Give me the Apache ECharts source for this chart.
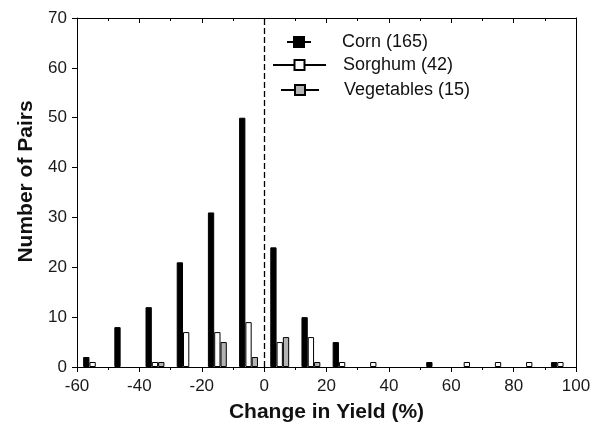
<!DOCTYPE html>
<html>
<head>
<meta charset="utf-8">
<script src="https://cdn.jsdelivr.net/npm/echarts@6/dist/echarts.min.js"></script>
<style>html,body{margin:0;padding:0;background:#fff}#c{width:604px;height:427px}</style>
</head>
<body>
<div id="c"></div>
<script>
// Bins (lower edge of 10% yield-change classes)
const bins = ['-60','-50','-40','-30','-20','-10','0','10','20','30','40','50','60','70','80','90'];
const corn =       [2, 8, 12, 21, 31, 50, 24, 10, 5, null, null, 1, null, null, null, 1];
const sorghum =    [1, null, 1, 7, 7, 9, 5, 6, 1, 1, null, null, 1, 1, 1, 1];
const vegetables = [null, null, 1, null, 5, 2, 6, 1, null, null, null, null, null, null, null, null];
const legendNames = ['Corn (165)', 'Sorghum (42)', 'Vegetables (15)'];
const xRange = [-60, 100];
const yRange = [0, 70];

const FONT = 'Liberation Sans, Arial, sans-serif';
const chart = echarts.init(document.getElementById('c'), null, {renderer: 'canvas'});

function legendOf(name, left, top, w, pad) {
  return {
    data: [name], left: left, top: top, orient: 'vertical', padding: 0,
    itemWidth: w, itemHeight: 12.5, selectedMode: false,
    textStyle: {fontFamily: FONT, fontSize: 18, color: '#111', lineHeight: 20, padding: [0, 0, 0, pad]}
  };
}

const option = {
  animation: false,
  backgroundColor: '#fff',
  textStyle: {fontFamily: FONT},
  grid: {left: 77, right: 28, top: 18, bottom: 60, outerBoundsMode: 'none'},
  legend: [
    legendOf(legendNames[0], 286, 32, 24, 26),
    legendOf(legendNames[1], 272, 55, 53, 12),
    legendOf(legendNames[2], 280, 80, 38, 20)
  ],
  xAxis: [
    {type: 'category', data: bins, boundaryGap: true, show: false, gridIndex: 0},
    {type: 'value', position: 'bottom', min: xRange[0], max: xRange[1], interval: 20,
     name: 'Change in Yield (%)', nameLocation: 'middle', nameGap: 35,
     nameTextStyle: {fontFamily: FONT, fontSize: 21, fontWeight: 'bold', color: '#111'},
     axisLine: {show: true, onZero: false, lineStyle: {color: '#000', width: 1}},
     axisTick: {show: true, inside: false, length: 5, lineStyle: {color: '#000'}},
     minorTick: {show: true, splitNumber: 2, length: 3, lineStyle: {color: '#000'}},
     axisLabel: {fontFamily: FONT, fontSize: 17, color: '#1a1a1a', margin: 11},
     splitLine: {show: false}, minorSplitLine: {show: false}},
    {type: 'value', position: 'top', min: xRange[0], max: xRange[1], interval: 20,
     axisLine: {show: true, onZero: false, lineStyle: {color: '#000', width: 1}},
     axisTick: {show: true, inside: true, length: 5, lineStyle: {color: '#000'}},
     minorTick: {show: true, splitNumber: 2, length: 3, lineStyle: {color: '#000'}},
     axisLabel: {show: false}, splitLine: {show: false}, minorSplitLine: {show: false}}
  ],
  yAxis: [
    {type: 'value', position: 'left', min: yRange[0], max: yRange[1], interval: 10,
     name: 'Number of Pairs', nameLocation: 'middle', nameGap: 40,
     nameTextStyle: {fontFamily: FONT, fontSize: 21, fontWeight: 'bold', color: '#111', padding: [0, 0, 0, 22]},
     axisLine: {show: true, onZero: false, lineStyle: {color: '#000', width: 1}},
     axisTick: {show: true, inside: false, length: 5, lineStyle: {color: '#000'}},
     axisLabel: {fontFamily: FONT, fontSize: 17, color: '#1a1a1a', margin: 10},
     splitLine: {show: false}},
    {type: 'value', position: 'right', min: yRange[0], max: yRange[1], interval: 10,
     axisLine: {show: true, onZero: false, lineStyle: {color: '#000', width: 1}},
     axisTick: {show: false}, axisLabel: {show: false}, splitLine: {show: false}}
  ],
  series: [
    // legend-only entries (line + square key)
    {name: legendNames[0], type: 'line', xAxisIndex: 0, yAxisIndex: 0, data: [], symbol: 'rect',
     lineStyle: {color: '#000', width: 2}, itemStyle: {color: '#000', borderColor: '#000', borderWidth: 1}},
    {name: legendNames[1], type: 'line', xAxisIndex: 0, yAxisIndex: 0, data: [], symbol: 'rect',
     lineStyle: {color: '#000', width: 2}, itemStyle: {color: '#fff', borderColor: '#000', borderWidth: 1}},
    {name: legendNames[2], type: 'line', xAxisIndex: 0, yAxisIndex: 0, data: [], symbol: 'rect',
     lineStyle: {color: '#000', width: 2}, itemStyle: {color: '#b3b3b3', borderColor: '#000', borderWidth: 1}},
    // bars
    {name: 'Corn', type: 'bar', xAxisIndex: 0, yAxisIndex: 0, data: corn, barWidth: 6.3, barGap: '0%',
     itemStyle: {color: '#000', borderColor: '#000', borderWidth: 1}},
    {name: 'Sorghum', type: 'bar', xAxisIndex: 0, yAxisIndex: 0, data: sorghum, barWidth: 6.3, barGap: '0%',
     itemStyle: {color: '#fff', borderColor: '#000', borderWidth: 1}},
    {name: 'Vegetables', type: 'bar', xAxisIndex: 0, yAxisIndex: 0, data: vegetables, barWidth: 6.3, barGap: '0%',
     itemStyle: {color: '#b3b3b3', borderColor: '#000', borderWidth: 1}},
    // dashed zero line
    {name: 'zero', type: 'line', xAxisIndex: 1, yAxisIndex: 0, data: [], silent: true,
     markLine: {silent: true, symbol: 'none', label: {show: false},
       lineStyle: {color: '#000', type: [6, 3], width: 1.3}, data: [{xAxis: 0}]}}
  ]
};
chart.setOption(option);
</script>
</body>
</html>
